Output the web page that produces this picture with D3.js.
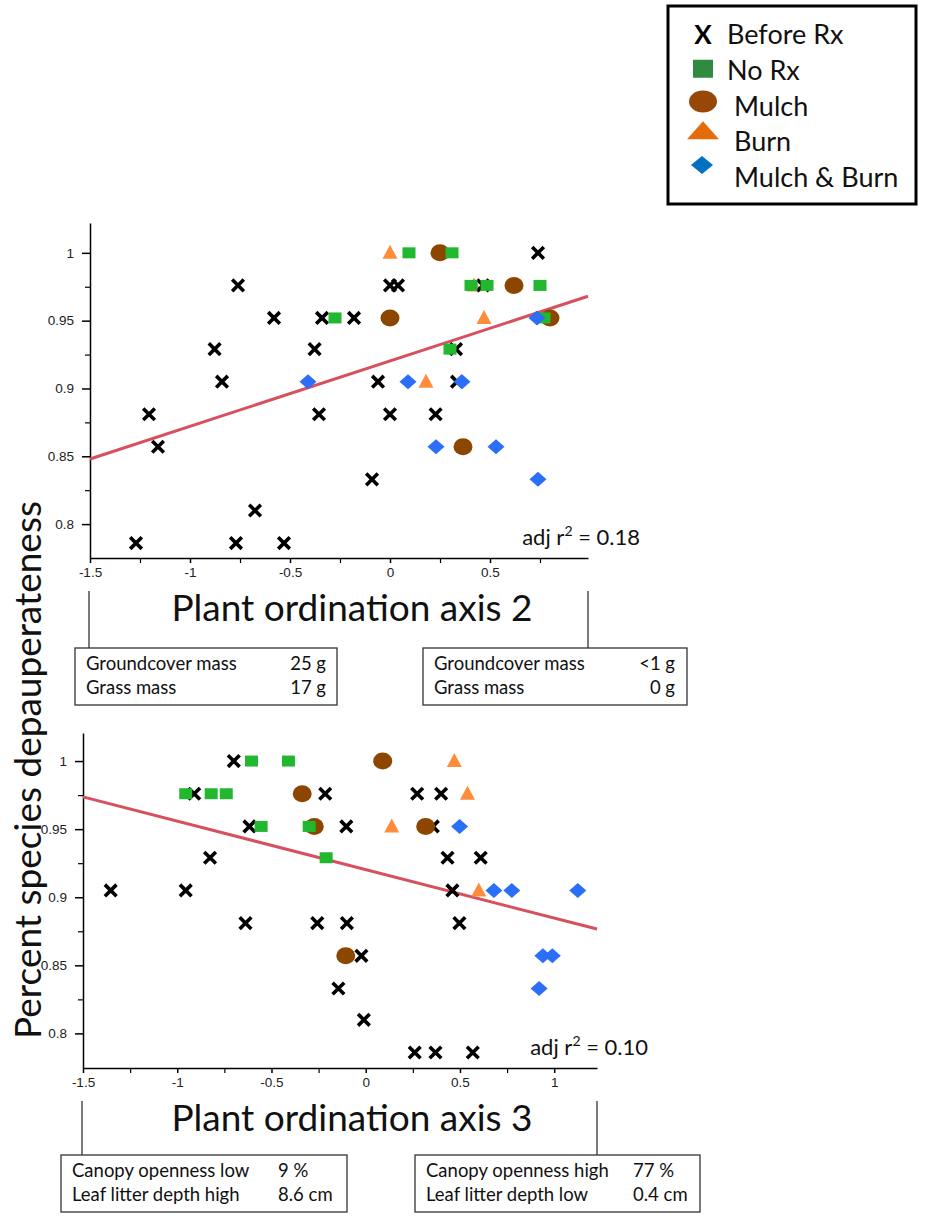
<!DOCTYPE html>
<html>
<head>
<meta charset="utf-8">
<script src="https://cdn.jsdelivr.net/npm/d3@7"></script>
<style>
  body { margin: 0; background: #fff; }
  svg { display: block; }
  .tick text { font-family: "Liberation Sans", Arial, sans-serif; font-size: 13.5px; fill: #222; }
  .cal { font-family: Lato, "Open Sans", sans-serif; }
</style>
</head>
<body>
<svg id="chart" width="938" height="1216"></svg>
<script>
// legend groups
const groups = ["Before Rx", "No Rx", "Mulch", "Burn", "Mulch & Burn"];

// axis 2 panel: [ordination score, depauperateness]
const ax2Before = [[-1.27,0.786],[-1.205,0.881],[-1.16,0.857],[-0.877,0.929],[-0.84,0.905],[-0.76,0.976],
  [-0.77,0.786],[-0.675,0.810],[-0.53,0.786],[-0.58,0.952],[-0.377,0.929],[-0.34,0.952],[-0.355,0.881],
  [-0.18,0.952],[-0.06,0.905],[0.0,0.976],[0.04,0.976],[0.0,0.881],[0.228,0.881],[-0.09,0.833],
  [0.33,0.929],[0.335,0.905],[0.465,0.976],[0.74,1.0]];
const ax2NoRx = [[-0.275,0.952],[0.095,1.0],[0.31,1.0],[0.405,0.976],[0.485,0.976],[0.75,0.976],[0.30,0.929],[0.77,0.952]];
const ax2Mulch = [[0.25,1.0],[0.0,0.952],[0.62,0.976],[0.80,0.952],[0.365,0.857]];
const ax2Burn = [[0.0,1.0],[0.18,0.905],[0.47,0.952],[0.42,0.976]];
const ax2Both = [[-0.41,0.905],[0.09,0.905],[0.36,0.905],[0.23,0.857],[0.53,0.857],[0.74,0.833],[0.735,0.952]];

// axis 3 panel
const ax3Before = [[-1.353,0.905],[-0.955,0.905],[-0.638,0.881],[-0.257,0.881],[-0.10,0.881],[-0.145,0.833],
  [-0.023,0.857],[-0.01,0.810],[0.497,0.881],[0.46,0.905],[0.26,0.786],[0.37,0.786],[0.568,0.786],
  [0.434,0.929],[0.61,0.929],[0.273,0.976],[0.40,0.976],[-0.103,0.952],[0.356,0.952],[-0.215,0.976],
  [-0.617,0.952],[-0.70,1.0],[-0.91,0.976],[-0.826,0.929]];
const ax3NoRx = [[-0.955,0.976],[-0.82,0.976],[-0.74,0.976],[-0.606,1.0],[-0.41,1.0],[-0.555,0.952],[-0.30,0.952],[-0.21,0.929]];
const ax3Mulch = [[-0.337,0.976],[-0.273,0.952],[0.09,1.0],[0.318,0.952],[-0.106,0.857]];
const ax3Burn = [[0.47,1.0],[0.54,0.976],[0.138,0.952],[0.60,0.905]];
const ax3Both = [[0.498,0.952],[0.68,0.905],[0.775,0.905],[1.125,0.905],[0.94,0.857],[0.99,0.857],[0.92,0.833]];

// fitted lines [intercept, slope] and adjusted r2
const fit2 = [0.9203, 0.0482];
const fit3 = [0.9203, -0.0356];
const r2Labels = ["0.18", "0.10"];

// ticks
const yTicks = [0.8, 0.85, 0.9, 0.95, 1];
const yMinor = [0.825, 0.875, 0.925, 0.975];
const xTicks2 = [-1.5, -1, -0.5, 0, 0.5];
const xTicks3 = [-1.5, -1, -0.5, 0, 0.5, 1];
const xMinor = [-1.25, -0.75, -0.25, 0.25, 0.75];

// gradient end boxes
const box2Left = [["Groundcover mass", "25 g"], ["Grass mass", "17 g"]];
const box2Right = [["Groundcover mass", "<1 g"], ["Grass mass", "0 g"]];
const box3Left = [["Canopy openness low", "9 %"], ["Leaf litter depth high", "8.6 cm"]];
const box3Right = [["Canopy openness high", "77 %"], ["Leaf litter depth low", "0.4 cm"]];

const col = {
  x: "#000", sq: "#21b82f", circ: "#8c4600", tri: "#ff8c3b", dia: "#2b6ef7", fit: "#d6505e"
};

const svg = d3.select("#chart");

// marker shapes
const triPath = "M0,-8L7.5,6L-7.5,6Z";
const diaPath = "M-8.5,0L0,-7.5L8.5,0L0,7.5Z";
const xSym = d3.symbol().type(d3.symbolX).size(90);

function drawPanel(cfg) {
  const x = d3.scaleLinear().domain(cfg.xDomain).range([cfg.left, cfg.right]);
  const y = d3.scaleLinear().domain(cfg.yDomain).range([cfg.bottom, cfg.top]);
  const g = svg.append("g");

  // axes
  g.append("g")
    .attr("transform", `translate(${cfg.left},0)`)
    .call(d3.axisLeft(y).tickValues(yTicks).tickSize(8).tickSizeOuter(0).tickPadding(8).tickFormat(d => String(d)))
    .call(a => a.selectAll("line,path").attr("stroke", "#000").attr("stroke-width", 1.5));
  g.append("g")
    .attr("transform", `translate(${cfg.left},0)`)
    .call(d3.axisLeft(y).tickValues(yMinor).tickSize(5).tickSizeOuter(0).tickFormat(""))
    .call(a => a.select("path").remove())
    .call(a => a.selectAll("line").attr("stroke", "#000").attr("stroke-width", 1.2));
  g.append("g")
    .attr("transform", `translate(0,${cfg.bottom})`)
    .call(d3.axisBottom(x).tickValues(cfg.xTicks).tickSize(5).tickSizeOuter(0).tickPadding(4).tickFormat(d => String(d)))
    .call(a => a.selectAll("line,path").attr("stroke", "#000").attr("stroke-width", 1.5));
  g.append("g")
    .attr("transform", `translate(0,${cfg.bottom})`)
    .call(d3.axisBottom(x).tickValues(xMinor).tickSize(5).tickSizeOuter(0).tickFormat(""))
    .call(a => a.select("path").remove())
    .call(a => a.selectAll("line").attr("stroke", "#000").attr("stroke-width", 1.2));

  // regression line
  const xd = x.domain();
  g.append("line")
    .attr("x1", x(xd[0])).attr("y1", y(cfg.fit[0] + cfg.fit[1] * xd[0]))
    .attr("x2", x(xd[1])).attr("y2", y(cfg.fit[0] + cfg.fit[1] * xd[1]))
    .attr("stroke", col.fit).attr("stroke-width", 3);

  // points
  g.selectAll(".tri").data(cfg.burn).join("path")
    .attr("d", triPath).attr("fill", col.tri)
    .attr("transform", d => `translate(${x(d[0])},${y(d[1])})`);
  g.selectAll(".xx").data(cfg.before).join("path")
    .attr("d", xSym).attr("fill", "none").attr("stroke", col.x).attr("stroke-width", 3.6)
    .attr("transform", d => `translate(${x(d[0])},${y(d[1])})`);
  g.selectAll(".circ").data(cfg.mulch).join("ellipse")
    .attr("cx", d => x(d[0])).attr("cy", d => y(d[1]))
    .attr("rx", 9.5).attr("ry", 8.5).attr("fill", col.circ);
  g.selectAll(".sq").data(cfg.noRx).join("rect")
    .attr("x", d => x(d[0]) - 6.5).attr("y", d => y(d[1]) - 5.5)
    .attr("width", 13).attr("height", 11).attr("fill", col.sq);
  g.selectAll(".dia").data(cfg.both).join("path")
    .attr("d", diaPath).attr("fill", col.dia)
    .attr("transform", d => `translate(${x(d[0])},${y(d[1])})`);

  // adj r2 label
  const t = g.append("text").attr("class", "cal")
    .attr("x", cfg.r2x).attr("y", cfg.bottom - 13)
    .attr("text-anchor", "end").attr("font-size", 22).attr("fill", "#111");
  t.append("tspan").text("adj r");
  t.append("tspan").attr("dy", -9).attr("font-size", 14).text("2");
  t.append("tspan").attr("dy", 9).text(" = " + cfg.r2);

  // axis title
  g.append("text").attr("class", "cal")
    .attr("x", 352).attr("y", cfg.bottom + 63)
    .attr("text-anchor", "middle").attr("font-size", 37).attr("fill", "#111")
    .text(cfg.title);

  // bracket lines
  [cfg.left - 1, cfg.right].forEach(px => {
    g.append("line").attr("x1", px).attr("x2", px)
      .attr("y1", cfg.bottom + 33).attr("y2", cfg.boxTop)
      .attr("stroke", "#333").attr("stroke-width", 1.3);
  });

  // boxes
  cfg.boxes.forEach(b => {
    const bg = g.append("g");
    bg.append("rect").attr("x", b.x).attr("y", cfg.boxTop)
      .attr("width", b.w).attr("height", 57)
      .attr("fill", "#fff").attr("stroke", "#333").attr("stroke-width", 1.3);
    b.rows.forEach((r, i) => {
      bg.append("text").attr("class", "cal").attr("font-size", 18.5).attr("fill", "#111")
        .attr("x", b.x + 11).attr("y", cfg.boxTop + 22 + i * 24).text(r[0]);
      bg.append("text").attr("class", "cal").attr("font-size", 18.5).attr("fill", "#111")
        .attr("x", b.valX).attr("y", cfg.boxTop + 22 + i * 24)
        .attr("text-anchor", b.anchor).text(r[1]);
    });
  });
}

drawPanel({
  left: 90, right: 588, top: 223, bottom: 558,
  xDomain: [-1.5, 0.99], yDomain: [0.775, 1.022], xTicks: xTicks2,
  before: ax2Before, noRx: ax2NoRx, mulch: ax2Mulch, burn: ax2Burn, both: ax2Both,
  fit: fit2, r2: r2Labels[0], r2x: 640,
  title: "Plant ordination axis 2", boxTop: 648,
  boxes: [
    { x: 75, w: 262, valX: 326, anchor: "end", rows: box2Left },
    { x: 423, w: 264, valX: 675, anchor: "end", rows: box2Right }
  ]
});

drawPanel({
  left: 83, right: 597, top: 733, bottom: 1068,
  xDomain: [-1.5, 1.227], yDomain: [0.7746, 1.0206], xTicks: xTicks3,
  before: ax3Before, noRx: ax3NoRx, mulch: ax3Mulch, burn: ax3Burn, both: ax3Both,
  fit: fit3, r2: r2Labels[1], r2x: 648,
  title: "Plant ordination axis 3", boxTop: 1155,
  boxes: [
    { x: 61, w: 286, valX: 278, anchor: "start", rows: box3Left },
    { x: 415, w: 285, valX: 633, anchor: "start", rows: box3Right }
  ]
});

// shared y title
svg.append("text").attr("class", "cal")
  .attr("transform", "translate(41,770) rotate(-90)")
  .attr("text-anchor", "middle").attr("font-size", 37).attr("fill", "#111")
  .text("Percent species depauperateness");

// legend
const leg = svg.append("g");
leg.append("rect").attr("x", 668).attr("y", 6).attr("width", 248).attr("height", 198)
  .attr("fill", "#fff").attr("stroke", "#000").attr("stroke-width", 3);
const legY = d3.scalePoint().domain(groups).range([35, 178]);
const legText = [727, 727, 734, 734, 734];
groups.forEach((name, i) => {
  leg.append("text").attr("class", "cal").attr("font-size", 27).attr("fill", "#111")
    .attr("x", legText[i]).attr("y", legY(name) + 9).text(name);
});
leg.append("text").attr("font-family", "Lato, sans-serif").attr("font-weight", "bold")
  .attr("font-size", 26).attr("text-anchor", "middle")
  .attr("x", 703).attr("y", legY(groups[0]) + 9).text("X");
leg.append("rect").attr("x", 693).attr("y", legY(groups[1]) - 11).attr("width", 20).attr("height", 18)
  .attr("fill", "#2e8b40");
leg.append("ellipse").attr("cx", 703).attr("cy", legY(groups[2]) - 5).attr("rx", 14).attr("ry", 11)
  .attr("fill", "#974806");
leg.append("path").attr("d", "M0,-10L16,8L-16,8Z").attr("fill", "#e46c0a")
  .attr("transform", `translate(703,${legY(groups[3]) - 11})`);
leg.append("path").attr("d", "M-11,0L0,-9L11,0L0,9Z").attr("fill", "#0070c0")
  .attr("transform", `translate(702,${legY(groups[4]) - 13})`);
</script>
</body>
</html>
